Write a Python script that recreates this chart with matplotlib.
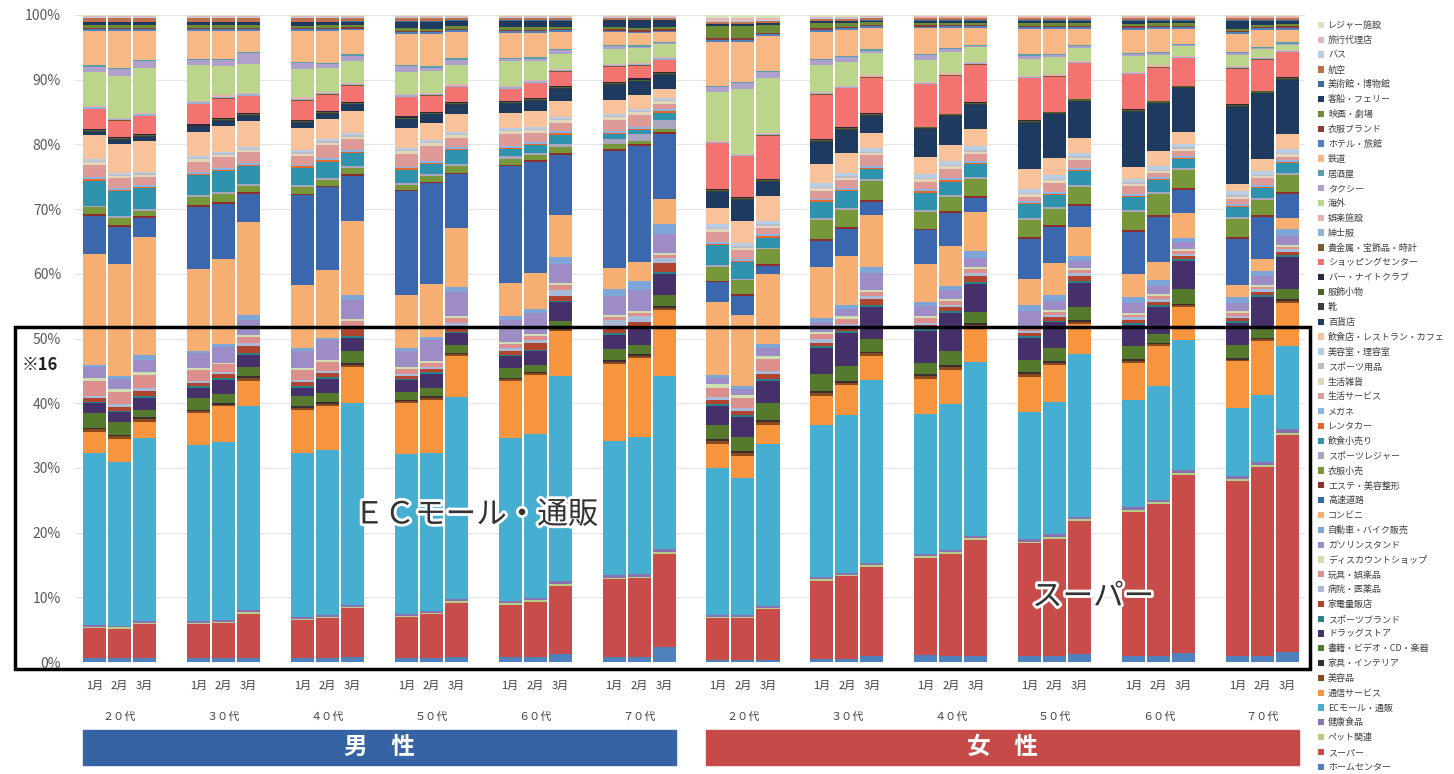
import matplotlib.pyplot as plt
import matplotlib.patheffects as pe
from matplotlib.patches import Patch, Rectangle
import matplotlib.transforms as mtrans
import numpy as np

plt.rcParams['font.family'] = ['Noto Sans CJK JP', 'DejaVu Sans']

ages = ['２０代', '３０代', '４０代', '５０代', '６０代', '７０代']
months = ['1月', '2月', '3月']
sexes = ['男　性', '女　性']

# shares per bar: men 20s..70s (1月,2月,3月), then women 20s..70s
home_center = [0.6, 0.6, 0.7, 0.6, 0.6, 0.7, 0.6, 0.6, 0.8, 0.6, 0.6, 0.8, 0.8, 0.8, 1.2, 0.8, 0.8, 2.3,
               0.3, 0.3, 0.3, 0.5, 0.5, 1.0, 1.1, 1.0, 1.0, 0.9, 0.9, 1.2, 0.9, 1.0, 1.5, 0.9, 0.9, 1.5]
super_market = [4.8, 4.7, 5.3, 5.4, 5.6, 7.0, 5.9, 6.4, 7.7, 6.4, 7.0, 8.5, 8.3, 8.8, 11.0, 12.2, 12.6, 14.7,
                6.7, 6.7, 8.1, 12.2, 12.9, 14.3, 15.1, 16.0, 18.2, 17.8, 18.6, 21.2, 22.7, 24.0, 28.2, 27.1, 29.7, 34.4]
pet = [0.2, 0.2, 0.2, 0.2, 0.2, 0.3, 0.2, 0.2, 0.3, 0.2, 0.2, 0.3, 0.2, 0.2, 0.3, 0.2, 0.2, 0.3,
       0.2, 0.2, 0.3, 0.3, 0.3, 0.3, 0.3, 0.3, 0.3, 0.3, 0.3, 0.3, 0.3, 0.3, 0.3, 0.3, 0.3, 0.3]
health_food = [0.3, 0.3, 0.3, 0.3, 0.3, 0.3, 0.3, 0.3, 0.3, 0.3, 0.3, 0.3, 0.4, 0.4, 0.4, 0.5, 0.5, 0.5,
               0.2, 0.2, 0.2, 0.3, 0.3, 0.3, 0.3, 0.3, 0.3, 0.4, 0.4, 0.4, 0.4, 0.4, 0.4, 0.5, 0.5, 0.5]
ec_mall = [27.4, 26.0, 29.0, 28.1, 28.4, 32.8, 25.5, 26.0, 32.0, 25.0, 25.1, 31.9, 25.8, 26.1, 32.7, 21.1, 22.0, 27.3,
           23.5, 21.7, 25.9, 23.9, 24.7, 29.3, 21.9, 23.0, 27.4, 20.1, 21.0, 25.9, 16.9, 18.1, 20.7, 10.5, 10.5, 13.1]
tsushin = [3.4, 3.7, 2.5, 5.1, 5.7, 4.1, 6.8, 7.0, 5.7, 8.0, 8.5, 6.5, 9.0, 9.4, 7.2, 12.1, 12.6, 10.4,
           3.8, 3.6, 3.1, 4.6, 4.7, 3.9, 5.5, 5.4, 5.5, 5.5, 5.8, 4.7, 5.8, 6.2, 5.2, 7.2, 8.5, 6.9]
biyouhin = [0.4, 0.4, 0.5, 0.3, 0.3, 0.4, 0.3, 0.3, 0.3, 0.3, 0.3, 0.3, 0.3, 0.3, 0.3, 0.3, 0.3, 0.3,
            0.4, 0.4, 0.5, 0.4, 0.4, 0.4, 0.4, 0.4, 0.4, 0.4, 0.4, 0.4, 0.3, 0.3, 0.3, 0.3, 0.3, 0.3]
kagu = [0.2, 0.2, 0.3, 0.2, 0.2, 0.3, 0.3, 0.3, 0.3, 0.2, 0.2, 0.2, 0.2, 0.2, 0.2, 0.3, 0.3, 0.3,
        0.3, 0.3, 0.3, 0.3, 0.3, 0.3, 0.3, 0.3, 0.3, 0.3, 0.3, 0.3, 0.3, 0.3, 0.3, 0.3, 0.3, 0.3]
shoseki = [2.4, 2.1, 1.2, 1.9, 1.5, 1.5, 1.6, 1.5, 1.9, 1.2, 1.4, 1.3, 1.5, 1.1, 1.2, 1.7, 1.5, 1.8,
           2.2, 2.3, 2.8, 2.7, 2.3, 2.0, 1.7, 2.3, 1.8, 2.0, 2.1, 2.0, 2.0, 1.3, 2.3, 2.0, 1.8, 1.6]
drugstore = [1.6, 1.6, 1.8, 1.7, 2.3, 1.9, 1.2, 2.2, 2.2, 1.9, 2.2, 1.8, 2.0, 2.2, 2.9, 2.2, 2.5, 3.3,
             3.1, 3.2, 3.4, 4.0, 5.1, 5.1, 5.0, 5.9, 4.3, 3.4, 4.0, 3.9, 3.3, 4.3, 4.4, 3.3, 4.6, 5.0]
sports_brand = [0.2, 0.2, 0.3, 0.2, 0.2, 0.3, 0.3, 0.3, 0.3, 0.2, 0.2, 0.2, 0.2, 0.2, 0.2, 0.3, 0.3, 0.3,
                0.3, 0.3, 0.3, 0.3, 0.3, 0.3, 0.3, 0.3, 0.3, 0.3, 0.3, 0.3, 0.3, 0.3, 0.3, 0.3, 0.3, 0.3]
kaden = [0.6, 0.6, 0.8, 0.6, 0.7, 1.2, 0.7, 0.6, 1.0, 0.5, 0.6, 1.0, 0.6, 1.0, 0.8, 0.6, 0.8, 1.4,
         0.6, 0.6, 0.8, 0.6, 0.6, 1.0, 0.6, 0.6, 1.0, 0.5, 0.5, 0.8, 0.5, 0.6, 0.5, 0.5, 0.5, 0.5]
byouin = [0.3, 0.4, 0.5, 0.3, 0.3, 0.4, 0.3, 0.3, 0.3, 0.3, 0.3, 0.5, 0.5, 0.5, 1.0, 1.5, 1.0, 0.8,
          0.5, 0.5, 0.6, 0.5, 0.6, 0.5, 0.4, 0.4, 0.5, 0.4, 0.4, 0.4, 0.4, 0.4, 0.4, 0.4, 0.4, 0.4]
omocha = [2.5, 2.0, 2.0, 1.8, 1.2, 1.0, 1.5, 1.5, 1.0, 0.8, 0.6, 0.8, 0.6, 0.6, 0.8, 0.5, 0.5, 0.5,
          1.5, 1.5, 1.8, 0.8, 0.8, 0.6, 0.8, 0.6, 0.6, 0.5, 0.4, 0.5, 0.4, 0.5, 0.4, 0.4, 0.4, 0.4]
discount = [0.4, 0.4, 0.5, 0.3, 0.3, 0.4, 0.3, 0.3, 0.3, 0.3, 0.3, 0.3, 0.3, 0.3, 0.3, 0.3, 0.3, 0.3,
            0.5, 0.5, 0.6, 0.4, 0.4, 0.4, 0.3, 0.3, 0.3, 0.3, 0.3, 0.3, 0.3, 0.3, 0.3, 0.3, 0.3, 0.3]
gasoline = [1.7, 1.7, 2.0, 2.3, 2.5, 2.3, 2.6, 3.1, 3.0, 2.5, 3.4, 3.7, 3.5, 3.4, 3.1, 2.9, 3.3, 3.1,
            1.0, 1.0, 1.2, 1.6, 1.2, 2.7, 1.5, 1.5, 1.5, 2.3, 1.5, 1.2, 1.5, 1.2, 1.1, 1.3, 1.3, 1.5]
jidousha = [0.3, 0.4, 0.8, 0.4, 0.5, 0.8, 0.5, 0.4, 0.8, 0.4, 0.4, 0.8, 0.6, 0.6, 1.0, 1.2, 1.5, 1.5,
            0.5, 0.5, 0.6, 0.5, 0.6, 1.0, 0.6, 0.6, 1.0, 1.0, 1.0, 0.8, 1.0, 1.0, 0.7, 0.8, 0.8, 1.0]
konbini = [17.8, 17.8, 18.6, 13.1, 13.5, 15.0, 9.9, 10.7, 11.8, 8.3, 8.5, 9.3, 5.3, 5.7, 6.7, 3.3, 3.1, 3.9,
           11.6, 11.3, 11.3, 8.0, 7.7, 8.3, 6.0, 6.2, 6.1, 4.0, 5.0, 4.6, 3.6, 2.8, 4.0, 2.0, 2.0, 1.8]
kosoku = [6.1, 6.0, 3.1, 9.9, 8.9, 4.6, 13.9, 13.2, 7.2, 16.2, 16.0, 8.6, 18.5, 17.8, 9.7, 18.4, 18.6, 10.4,
          3.1, 2.9, 1.3, 4.1, 4.1, 2.1, 5.2, 5.3, 2.3, 6.4, 5.7, 3.3, 6.6, 7.2, 3.6, 7.0, 6.6, 3.8]
esthe = [0.2, 0.2, 0.2, 0.2, 0.2, 0.2, 0.2, 0.2, 0.2, 0.2, 0.2, 0.2, 0.2, 0.2, 0.2, 0.2, 0.2, 0.2,
         0.3, 0.3, 0.3, 0.3, 0.3, 0.3, 0.3, 0.3, 0.3, 0.3, 0.3, 0.3, 0.3, 0.3, 0.3, 0.3, 0.3, 0.3]
ifuku_kouri = [1.1, 1.2, 0.9, 1.3, 1.4, 1.0, 1.1, 0.9, 1.0, 0.8, 0.9, 1.1, 0.9, 0.8, 1.0, 0.8, 0.5, 0.5,
               2.2, 2.2, 2.3, 3.1, 2.7, 3.1, 2.6, 2.1, 2.7, 2.6, 2.6, 2.8, 2.9, 3.3, 2.9, 2.8, 2.3, 2.6]
sports_leisure = [0.3, 0.3, 0.3, 0.3, 0.3, 0.3, 0.3, 0.3, 0.3, 0.3, 0.3, 0.3, 0.4, 0.4, 0.5, 0.8, 1.2, 1.5,
                  0.3, 0.3, 0.3, 0.3, 0.3, 0.3, 0.3, 0.3, 0.3, 0.3, 0.3, 0.3, 0.3, 0.3, 0.3, 0.3, 0.3, 0.3]
inshoku_kouri = [4.0, 4.0, 3.3, 3.2, 3.3, 2.9, 2.7, 2.6, 2.1, 2.1, 1.6, 2.2, 1.2, 1.2, 1.5, 0.8, 0.6, 1.1,
                 3.1, 2.6, 1.6, 2.5, 2.7, 1.6, 2.7, 2.2, 2.0, 2.2, 1.9, 2.2, 2.0, 1.9, 1.4, 1.6, 1.6, 1.6]
rentacar = [0.2, 0.2, 0.2, 0.2, 0.2, 0.2, 0.2, 0.2, 0.2, 0.2, 0.2, 0.2, 0.2, 0.2, 0.2, 0.2, 0.2, 0.2,
            0.2, 0.2, 0.2, 0.2, 0.2, 0.2, 0.2, 0.2, 0.2, 0.2, 0.2, 0.2, 0.2, 0.2, 0.2, 0.2, 0.2, 0.2]
megane = [0.3, 0.3, 0.3, 0.3, 0.3, 0.3, 0.3, 0.3, 0.3, 0.3, 0.3, 0.3, 0.3, 0.3, 0.3, 0.3, 0.3, 0.3,
          0.3, 0.3, 0.3, 0.3, 0.3, 0.3, 0.3, 0.3, 0.3, 0.3, 0.3, 0.3, 0.3, 0.3, 0.3, 0.3, 0.3, 0.3]
seikatsu_service = [2.0, 1.5, 1.2, 1.7, 1.7, 1.7, 1.3, 2.1, 1.7, 2.0, 2.4, 1.4, 1.9, 1.5, 1.4, 1.7, 1.9, 0.9,
                    1.7, 1.4, 1.0, 1.2, 1.2, 1.7, 1.2, 1.5, 1.1, 0.7, 1.4, 1.2, 1.2, 0.6, 0.8, 0.7, 1.0, 0.5]
seikatsu_zakka = [0.4, 0.4, 0.4, 0.4, 0.4, 0.4, 0.4, 0.4, 0.4, 0.4, 0.4, 0.4, 0.4, 0.4, 0.4, 0.4, 0.4, 0.4,
                  0.4, 0.4, 0.4, 0.4, 0.4, 0.4, 0.4, 0.4, 0.4, 0.4, 0.4, 0.4, 0.4, 0.4, 0.4, 0.4, 0.4, 0.4]
sports_goods = [0.2, 0.2, 0.2, 0.2, 0.2, 0.2, 0.2, 0.2, 0.2, 0.2, 0.2, 0.2, 0.2, 0.2, 0.2, 0.2, 0.2, 0.2,
                0.2, 0.2, 0.2, 0.2, 0.2, 0.2, 0.2, 0.2, 0.2, 0.2, 0.2, 0.2, 0.2, 0.2, 0.2, 0.2, 0.2, 0.2]
biyoushitsu = [0.3, 0.3, 0.3, 0.3, 0.3, 0.3, 0.3, 0.3, 0.3, 0.3, 0.3, 0.3, 0.3, 0.3, 0.3, 0.3, 0.3, 0.3,
               0.6, 0.6, 0.6, 0.6, 0.6, 0.6, 0.6, 0.6, 0.6, 0.6, 0.6, 0.6, 0.6, 0.6, 0.6, 0.6, 0.6, 0.6]
inshokuten = [3.8, 4.6, 4.9, 3.8, 4.1, 4.2, 3.5, 3.3, 3.6, 3.1, 2.7, 2.8, 2.3, 2.5, 2.6, 2.3, 2.3, 1.5,
              2.6, 3.4, 3.9, 3.1, 3.0, 2.3, 2.7, 2.5, 2.8, 3.2, 2.7, 2.3, 1.8, 2.3, 1.9, 1.2, 1.8, 2.4]
hyakkaten = [0.6, 0.6, 0.6, 0.8, 0.8, 0.8, 0.8, 0.8, 1.0, 1.4, 1.4, 1.5, 1.6, 1.7, 1.9, 2.3, 2.2, 2.2,
             2.5, 3.4, 2.3, 3.4, 3.7, 2.8, 4.3, 4.6, 3.8, 7.3, 7.0, 5.9, 8.7, 7.6, 6.9, 11.9, 10.4, 8.6]
kutsu = [0.1, 0.1, 0.1, 0.1, 0.1, 0.1, 0.1, 0.1, 0.1, 0.1, 0.1, 0.1, 0.1, 0.1, 0.1, 0.1, 0.1, 0.1,
         0.1, 0.1, 0.1, 0.1, 0.1, 0.1, 0.1, 0.1, 0.1, 0.1, 0.1, 0.1, 0.1, 0.1, 0.1, 0.1, 0.1, 0.1]
fukushoku = [0.15, 0.15, 0.15, 0.15, 0.15, 0.15, 0.15, 0.15, 0.15, 0.15, 0.15, 0.15, 0.15, 0.15, 0.15, 0.15, 0.15, 0.15,
             0.2, 0.2, 0.2, 0.2, 0.2, 0.2, 0.2, 0.2, 0.2, 0.2, 0.2, 0.2, 0.2, 0.2, 0.2, 0.2, 0.2, 0.2]
bar_club = [0.2, 0.2, 0.2, 0.2, 0.2, 0.2, 0.2, 0.2, 0.2, 0.2, 0.2, 0.2, 0.2, 0.2, 0.2, 0.2, 0.2, 0.2,
            0.1, 0.1, 0.1, 0.1, 0.1, 0.1, 0.1, 0.1, 0.1, 0.1, 0.1, 0.1, 0.1, 0.1, 0.1, 0.1, 0.1, 0.1]
shopping_center = [3.1, 2.6, 2.8, 3.2, 3.1, 2.7, 3.0, 2.5, 2.5, 3.0, 2.5, 2.3, 1.8, 2.3, 2.3, 2.4, 2.0, 1.8,
                   7.3, 6.5, 7.0, 7.0, 6.1, 5.7, 6.6, 5.9, 5.9, 6.6, 5.5, 5.6, 5.5, 5.2, 4.3, 5.5, 4.9, 3.9]
kikinzoku = [0.1, 0.1, 0.1, 0.1, 0.1, 0.1, 0.1, 0.1, 0.1, 0.1, 0.1, 0.1, 0.1, 0.1, 0.1, 0.1, 0.1, 0.1,
             0.1, 0.1, 0.1, 0.1, 0.1, 0.1, 0.1, 0.1, 0.1, 0.1, 0.1, 0.1, 0.1, 0.1, 0.1, 0.1, 0.1, 0.1]
shinshifuku = [0.2, 0.2, 0.2, 0.2, 0.2, 0.2, 0.2, 0.2, 0.2, 0.2, 0.2, 0.2, 0.2, 0.2, 0.2, 0.2, 0.2, 0.2,
               0.1, 0.1, 0.1, 0.1, 0.1, 0.1, 0.1, 0.1, 0.1, 0.1, 0.1, 0.1, 0.1, 0.1, 0.1, 0.1, 0.1, 0.1]
goraku = [0.2, 0.2, 0.2, 0.2, 0.2, 0.2, 0.2, 0.2, 0.2, 0.2, 0.2, 0.2, 0.2, 0.2, 0.2, 0.2, 0.2, 0.2,
          0.2, 0.2, 0.2, 0.2, 0.2, 0.2, 0.2, 0.2, 0.2, 0.2, 0.2, 0.2, 0.2, 0.2, 0.2, 0.2, 0.2, 0.2]
kaigai = [5.4, 6.7, 7.2, 5.7, 4.7, 4.6, 4.5, 3.7, 3.4, 3.4, 3.5, 3.1, 3.9, 3.0, 2.4, 2.3, 2.3, 2.0,
          7.8, 10.2, 8.8, 4.2, 3.8, 3.6, 3.4, 3.4, 2.3, 2.6, 2.7, 2.0, 2.4, 1.7, 1.5, 1.7, 1.2, 0.8]
taxi = [0.9, 1.0, 1.0, 0.8, 1.0, 1.8, 0.8, 0.7, 0.9, 1.0, 0.5, 0.8, 0.4, 0.4, 0.6, 0.4, 0.3, 0.2,
        0.7, 1.0, 1.0, 0.8, 0.7, 0.4, 0.7, 0.4, 0.2, 0.6, 0.3, 0.3, 0.3, 0.3, 0.2, 0.3, 0.2, 0.2]
izakaya = [0.2, 0.2, 0.2, 0.2, 0.2, 0.2, 0.2, 0.2, 0.2, 0.2, 0.2, 0.2, 0.2, 0.2, 0.2, 0.2, 0.2, 0.2,
           0.2, 0.2, 0.2, 0.2, 0.2, 0.2, 0.2, 0.2, 0.2, 0.2, 0.2, 0.2, 0.2, 0.2, 0.2, 0.2, 0.2, 0.2]
tetsudo = [5.5, 5.9, 4.6, 4.5, 4.4, 3.4, 4.8, 5.0, 3.8, 4.8, 5.1, 4.2, 3.9, 3.9, 2.6, 2.0, 1.9, 1.5,
           7.0, 6.3, 5.5, 4.3, 4.0, 3.4, 4.0, 3.1, 2.6, 4.0, 4.0, 2.6, 3.7, 3.6, 2.4, 2.7, 2.6, 2.0]
hotel = [0.3, 0.3, 0.3, 0.3, 0.3, 0.3, 0.3, 0.3, 0.3, 0.3, 0.3, 0.3, 0.3, 0.3, 0.3, 0.3, 0.3, 0.3,
         0.3, 0.3, 0.3, 0.3, 0.3, 0.3, 0.3, 0.3, 0.3, 0.3, 0.3, 0.3, 0.3, 0.3, 0.3, 0.3, 0.3, 0.3]
ifuku_brand = [0.2, 0.2, 0.2, 0.2, 0.2, 0.2, 0.2, 0.2, 0.2, 0.2, 0.2, 0.2, 0.2, 0.2, 0.2, 0.2, 0.2, 0.2,
               0.3, 0.3, 0.3, 0.2, 0.2, 0.2, 0.2, 0.2, 0.2, 0.2, 0.2, 0.2, 0.2, 0.2, 0.2, 0.2, 0.2, 0.2]
eiga = [0.4, 0.4, 0.4, 0.4, 0.4, 0.4, 0.4, 0.4, 0.4, 0.4, 0.4, 0.4, 0.4, 0.4, 0.4, 0.4, 0.4, 0.4,
        1.9, 1.9, 1.2, 0.8, 0.6, 0.4, 0.4, 0.4, 0.4, 0.4, 0.4, 0.4, 0.4, 0.4, 0.4, 0.4, 0.4, 0.4]
kyakusen = [0.5, 0.5, 0.5, 0.5, 0.5, 0.5, 0.5, 0.5, 0.5, 1.0, 1.1, 0.8, 1.0, 1.0, 0.9, 1.0, 1.2, 1.0,
            0.3, 0.3, 0.3, 0.3, 0.3, 0.3, 0.3, 0.3, 0.3, 0.4, 0.4, 0.4, 0.5, 0.4, 0.4, 1.2, 0.6, 0.5]
bijutsukan = [0.1, 0.1, 0.1, 0.1, 0.1, 0.1, 0.1, 0.1, 0.1, 0.1, 0.1, 0.1, 0.1, 0.1, 0.1, 0.1, 0.1, 0.1,
              0.1, 0.1, 0.1, 0.1, 0.1, 0.1, 0.1, 0.1, 0.1, 0.1, 0.1, 0.1, 0.1, 0.1, 0.1, 0.1, 0.1, 0.1]
koukuu = [0.6, 0.6, 0.6, 0.6, 0.6, 0.6, 0.6, 0.6, 0.5, 0.5, 0.5, 0.4, 0.4, 0.4, 0.4, 0.3, 0.3, 0.3,
          0.3, 0.3, 0.3, 0.3, 0.3, 0.3, 0.3, 0.3, 0.3, 0.3, 0.3, 0.3, 0.3, 0.3, 0.3, 0.3, 0.3, 0.3]
bus = [0.1, 0.1, 0.1, 0.1, 0.1, 0.1, 0.1, 0.1, 0.1, 0.1, 0.1, 0.1, 0.1, 0.1, 0.1, 0.1, 0.1, 0.1,
       0.1, 0.1, 0.1, 0.1, 0.1, 0.1, 0.1, 0.1, 0.1, 0.1, 0.1, 0.1, 0.1, 0.1, 0.1, 0.1, 0.1, 0.1]
ryokou = [0.15, 0.15, 0.15, 0.15, 0.15, 0.15, 0.15, 0.15, 0.15, 0.15, 0.15, 0.15, 0.15, 0.15, 0.15, 0.15, 0.15, 0.15,
          0.5, 0.5, 0.4, 0.2, 0.2, 0.2, 0.2, 0.2, 0.2, 0.2, 0.2, 0.2, 0.2, 0.2, 0.2, 0.2, 0.2, 0.2]
leisure = [0.2, 0.2, 0.2, 0.2, 0.2, 0.2, 0.2, 0.2, 0.2, 0.2, 0.2, 0.2, 0.2, 0.2, 0.2, 0.2, 0.2, 0.2,
           0.5, 0.5, 0.4, 0.3, 0.3, 0.2, 0.2, 0.2, 0.2, 0.2, 0.2, 0.2, 0.2, 0.2, 0.2, 0.2, 0.2, 0.2]

# stacking order, bottom -> top (legend shows it top -> bottom)
stack = [
    ('ホームセンター', home_center, '#4f81bd'),
    ('スーパー', super_market, '#c74c4a'),
    ('ペット関連', pet, '#b5cf86'),
    ('健康食品', health_food, '#8a72b0'),
    ('ECモール・通販', ec_mall, '#46aed0'),
    ('通信サービス', tsushin, '#f7953f'),
    ('美容品', biyouhin, '#8a4a1c'),
    ('家具・インテリア', kagu, '#3a2d33'),
    ('書籍・ビデオ・CD・楽器', shoseki, '#557a2e'),
    ('ドラッグストア', drugstore, '#45306a'),
    ('スポーツブランド', sports_brand, '#2b7f86'),
    ('家電量販店', kaden, '#b0452f'),
    ('病院・医薬品', byouin, '#a9bbd8'),
    ('玩具・娯楽品', omocha, '#dc8f8c'),
    ('ディスカウントショップ', discount, '#cfdfb1'),
    ('ガソリンスタンド', gasoline, '#9d8cc6'),
    ('自動車・バイク販売', jidousha, '#7fa6d8'),
    ('コンビニ', konbini, '#f7ae73'),
    ('高速道路', kosoku, '#3b67ae'),
    ('エステ・美容整形', esthe, '#8c2f2c'),
    ('衣服小売', ifuku_kouri, '#76983a'),
    ('スポーツレジャー', sports_leisure, '#aaa6bd'),
    ('飲食小売り', inshoku_kouri, '#2f93ad'),
    ('レンタカー', rentacar, '#e3682a'),
    ('メガネ', megane, '#8db3e2'),
    ('生活サービス', seikatsu_service, '#de9a97'),
    ('生活雑貨', seikatsu_zakka, '#e3d7bb'),
    ('スポーツ用品', sports_goods, '#bcbcc4'),
    ('美容室・理容室', biyoushitsu, '#b9cde5'),
    ('飲食店・レストラン・カフェ', inshokuten, '#f8c29a'),
    ('百貨店', hyakkaten, '#1f3a5f'),
    ('靴', kutsu, '#3c3c3c'),
    ('服飾小物', fukushoku, '#4f6228'),
    ('バー・ナイトクラブ', bar_club, '#2e2645'),
    ('ショッピングセンター', shopping_center, '#f27370'),
    ('貴金属・宝飾品・時計', kikinzoku, '#7f5a2e'),
    ('紳士服', shinshifuku, '#95b3d7'),
    ('娯楽施設', goraku, '#e6b0b0'),
    ('海外', kaigai, '#bbd58d'),
    ('タクシー', taxi, '#b0a0cc'),
    ('居酒屋', izakaya, '#5a9eab'),
    ('鉄道', tetsudo, '#f8b886'),
    ('ホテル・旅館', hotel, '#4f81bd'),
    ('衣服ブランド', ifuku_brand, '#8b3a3a'),
    ('映画・劇場', eiga, '#6d8a35'),
    ('客船・フェリー', kyakusen, '#1f3a5f'),
    ('美術館・博物館', bijutsukan, '#3e6d99'),
    ('航空', koukuu, '#c0704a'),
    ('バス', bus, '#b9cde5'),
    ('旅行代理店', ryokou, '#e6b9b8'),
    ('レジャー施設', leisure, '#d7e4bd'),
]

vals = np.array([s[1] for s in stack], dtype=float)
shares = vals / vals.sum(axis=0)

x = np.array([g * 4.15 + m for g in range(12) for m in range(3)])

fig = plt.figure(figsize=(14.54, 7.74), dpi=100)
ax = fig.add_axes([75 / 1454, 112 / 774, 1230 / 1454, 647 / 774])

bottom = np.zeros(len(x))
for (name, _, color), row in zip(stack, shares):
    ax.bar(x, row, bottom=bottom, width=0.92, color=color, linewidth=0, zorder=2)
    bottom += row

ax.set_xlim(-0.78, 48.35)
ax.set_ylim(0, 1)
ax.set_yticks(np.arange(0, 1.01, 0.1))
ax.set_yticklabels([f'{int(round(v * 100))}%' for v in np.arange(0, 1.01, 0.1)], fontsize=10, color='#595959')
ax.tick_params(axis='y', length=0, pad=10)
ax.set_xticks([])
ax.grid(axis='y', color='#e3e3e3', linewidth=0.8, zorder=0)
for sp in ax.spines.values():
    sp.set_visible(False)

trans = mtrans.blended_transform_factory(ax.transData, ax.transAxes)
for g in range(12):
    for m in range(3):
        ax.text(g * 4.15 + m, -0.037, months[m], transform=trans, ha='center', va='center',
                fontsize=8, color='#404040')
    ax.text(g * 4.15 + 1, -0.085, ages[g % 6], transform=trans, ha='center', va='center',
            fontsize=8, color='#404040')

# sex banners
for i, (name, color) in enumerate(zip(sexes, ['#3563a3', '#c54a48'])):
    x0 = i * 6 * 4.15 - 0.46
    x1 = (i * 6 + 5) * 4.15 + 2.46
    ax.add_patch(Rectangle((x0, -0.159), x1 - x0, 0.054, transform=trans, color=color,
                           clip_on=False, zorder=3))
    ax.text((x0 + x1) / 2, -0.132, name, transform=trans, ha='center', va='center',
            fontsize=17, color='white', fontweight='bold', zorder=4)

# highlight box
fig.patches.append(Rectangle((15 / 1454, 105 / 774), 1295 / 1454, 342 / 774, transform=fig.transFigure,
                             fill=False, edgecolor='black', linewidth=2.5, zorder=5))
fig.text(22 / 1454, 409 / 774, '※16', fontsize=12, fontweight='bold', ha='left', va='center', color='#222222')

outline = [pe.withStroke(linewidth=4, foreground='white')]
fig.text(476 / 1454, 259 / 774, 'ＥＣモール・通販', fontsize=22, ha='center', va='center', color='#333333',
         path_effects=outline, zorder=6)
fig.text(1093 / 1454, 177 / 774, 'スーパー', fontsize=22, ha='center', va='center', color='#333333',
         path_effects=outline, zorder=6)

handles = [Patch(facecolor=c, edgecolor='none', label=n) for n, _, c in stack][::-1]
fig.legend(handles=handles, loc='upper left', bbox_to_anchor=(1318 / 1454, 1 - 21 / 774),
           fontsize=6.5, frameon=False, handlelength=0.7, handleheight=0.7, handletextpad=0.4,
           labelspacing=0.64, borderpad=0, borderaxespad=0, labelcolor='#404040')

fig.savefig('out.png', dpi=100, facecolor='white')
